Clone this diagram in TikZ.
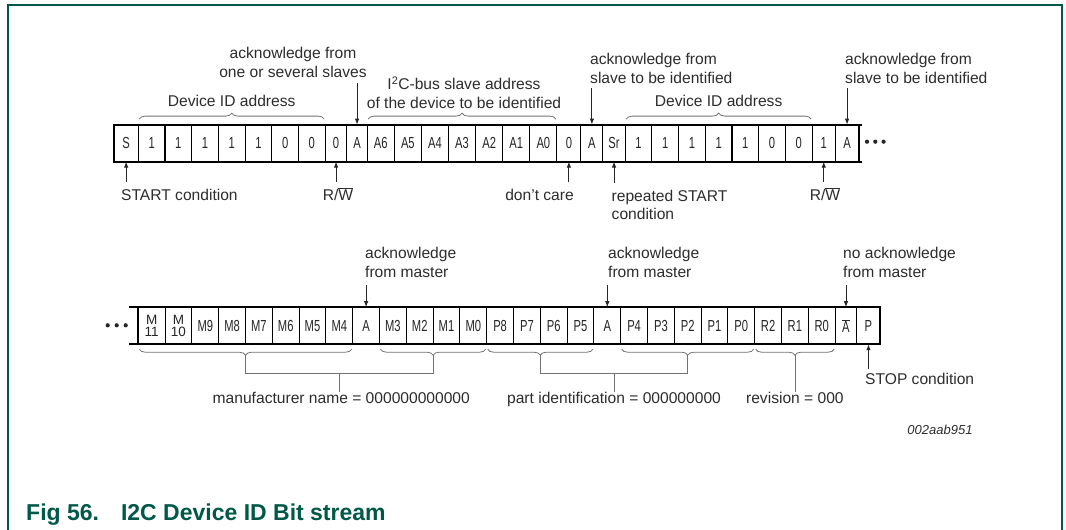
\documentclass[tikz,border=0pt]{standalone}
\usepackage{fontspec}
\setmainfont{Liberation Sans}
\newfontfamily\cellfont[FakeStretch=0.7]{Liberation Sans}
\usepackage{xcolor}
\usepackage{tikz}
\usetikzlibrary{arrows.meta,positioning,calc,decorations.pathreplacing}

\definecolor{figgreen}{RGB}{0,88,72}
\definecolor{txtgray}{RGB}{45,45,45}
\newcommand{\stk}[2]{\rmfamily\fontsize{13.5}{13.5}\selectfont\shortstack{#1\\#2}}
\newcommand{\rwbar}{R/$\overline{\mbox{W}}$}

\begin{document}
\begin{tikzpicture}[
  x=1pt, y=-1pt,
  lbl/.style={font=\fontsize{15.6}{18.8}\selectfont, text=txtgray, inner sep=0pt},
  bit/.style={draw, line width=1.1pt, outer sep=0pt, inner sep=0pt, minimum height=37pt, fill=white, font=\cellfont\fontsize{16}{16}\selectfont, text=black!85},
  rim/.style={line width=1.8pt},
  arr/.style={-{Latex[length=6pt,width=4.5pt]}, line width=0.9pt, black!85},
  brc/.style={decorate, decoration={brace, amplitude=6pt}, line width=0.8pt, black!55},
  lnk/.style={line width=0.8pt, black!55},
  dot/.style={circle, fill=black!85, inner sep=0pt, minimum size=4.2pt},
]
\fill[white] (0,0) rectangle (1066,530);
\useasboundingbox (0,0) rectangle (1066,530);
\draw[figgreen, line width=1.8pt] (8,530) -- (8,5) -- (1062,5) -- (1062,530);

% first row: address phase up to the repeated start
\node[bit, minimum width=24.3pt, anchor=west] (a1) at (114,143.1) {S};
\foreach \t/\w [count=\i from 2, remember=\i as \j (initially 1)] in
  {1/26.7, 1/26.7, 1/26.7, 1/26.7, 1/26.7, 0/26.7, 0/26.7, 0/21.7, A/20.3,
   A6/27.1, A5/27.1, A4/27.1, A3/27.1, A2/27.1, A1/27.1, A0/27.1, 0/24, A/22, Sr/22.3,
   1/26.7, 1/26.7, 1/26.7, 1/26.7, 1/26.7, 0/26.7, 0/26.7, 1/23.3, A/23.3}
  \node[bit, minimum width=\w pt, right=0pt of a\j] (a\i) {\t};
\draw[rim] ($(a29.north east)+(3.5,0)$) -- (a1.north west) -- (a1.south west) -- ($(a29.south east)+(3.5,0)$);
\draw[rim] (a29.north east) -- (a29.south east);
\foreach \k in {1,2,3}
  \node[dot] (ra\k) at (858.7+8.3*\k,141.7) {};

% second row: device ID read back
\node[bit, minimum width=26.8pt, anchor=west] (b1) at (138.3,325.7) {\stk{M}{11}};
\foreach \t/\w [count=\i from 2, remember=\i as \j (initially 1)] in
  {{\stk{M}{10}}/26.8, M9/26.8, M8/26.8, M7/26.8, M6/26.8, M5/26.8, M4/26.8, A/26.8,
   M3/26.8, M2/26.8, M1/26.8, M0/26.8, P8/26.8, P7/26.8, P6/26.8, P5/26.8, A/26.8,
   P4/26.8, P3/26.8, P2/26.8, P1/26.8, P0/26.8, R2/26.8, R1/26.8, R0/26.8,
   {$\overline{\mbox{A}}$}/21.7, P/23.3}
  \node[bit, minimum width=\w pt, right=0pt of b\j] (b\i) {\t};
\draw[rim] ($(b1.north west)+(-9,0)$) -- (b28.north east) -- (b28.south east) -- ($(b1.south west)+(-9,0)$);
\draw[rim] (b1.north west) -- (b1.south west);
\foreach \k in {1,2,3}
  \node[dot] (rb\k) at (98.7+9*\k,325.3) {};

% labels above the first row
\node[lbl, align=center, anchor=north] (ack1) at (293,46.7) {acknowledge from\\one or several slaves};
\node[lbl, anchor=base] (devid1) at (231.7,106.5) {Device ID address};
\node[lbl, align=center, anchor=north] (slv) at (464,76.5) {I\textsuperscript{2}C-bus slave address\\of the device to be identified};
\node[lbl, align=left, anchor=north west] (ack2) at (590,52.8) {acknowledge from\\slave to be identified};
\node[lbl, anchor=base] (devid2) at (718.6,106.5) {Device ID address};
\node[lbl, align=left, anchor=north west] (ack3) at (845,52.8) {acknowledge from\\slave to be identified};
\draw[brc] ($(a2.north west)+(1,-5.5)$) -- ($(a8.north east)+(-1,-5.5)$);
\draw[brc] ($(a11.north west)+(1,-5.5)$) -- ($(a17.north east)+(-1,-5.5)$);
\draw[brc] ($(a21.north west)+(1,-5.5)$) -- ($(a27.north east)+(-1,-5.5)$);
\draw[arr] ($(ack1.south -| a10.north)+(0,6)$) -- (a10.north);
\draw[arr] ($(ack2.south -| a19.north)+(0,5)$) -- (a19.north);
\draw[arr] ($(ack3.south -| a29.north)+(0,5)$) -- (a29.north);

% labels below the first row
\node[lbl, anchor=base west] (start) at (121,200) {START condition};
\node[lbl, anchor=base] (rw1) at (338,200.5) {\rwbar};
\node[lbl, anchor=base east] (dc) at (574,200.5) {don't care};
\node[lbl, align=left, anchor=north west] (rep) at (611.5,189.5) {repeated START\\condition};
\node[lbl, anchor=base] (rw2) at (825,200.5) {\rwbar};
\draw[arr] ($(start.north -| a1.south)+(0,-6.5)$) -- (a1.south);
\draw[arr] ($(rw1.north -| a9.south)+(0,-6)$) -- (a9.south);
\draw[arr] ($(dc.north -| a18.south)+(0,-6.5)$) -- (a18.south);
\draw[arr] ($(rep.north -| a20.south)+(0,-7)$) -- (a20.south);
\draw[arr] ($(rw2.north -| a28.south)+(0,-6)$) -- (a28.south);

% labels above the second row
\node[lbl, align=left, anchor=north west] (ackm1) at (365,247) {acknowledge\\from master};
\node[lbl, align=left, anchor=north west] (ackm2) at (608,247) {acknowledge\\from master};
\node[lbl, align=left, anchor=north west] (nack) at (843,247) {no acknowledge\\from master};
\draw[arr] ($(ackm1.south -| b9.north)+(0,7.5)$) -- (b9.north);
\draw[arr] ($(ackm2.south -| b18.north)+(0,7.5)$) -- (b18.north);
\draw[arr] ($(nack.south -| b27.north)+(0,7.5)$) -- (b27.north);

% field braces below the second row
\draw[brc] ($(b8.south east)+(-1,5)$) -- ($(b1.south west)+(1,5)$);
\draw[brc] ($(b13.south east)+(-1,5)$) -- ($(b10.south west)+(1,5)$);
\draw[brc] ($(b17.south east)+(-1,5)$) -- ($(b14.south west)+(1,5)$);
\draw[brc] ($(b23.south east)+(-1,5)$) -- ($(b19.south west)+(1,5)$);
\draw[brc] ($(b26.south east)+(-1,5)$) -- ($(b24.south west)+(1,5)$);
\coordinate (mA) at ($(b1.south west)!.5!(b8.south east)+(0,11)$);
\coordinate (mB) at ($(b10.south west)!.5!(b13.south east)+(0,11)$);
\coordinate (mJ) at ($(mA)!.5!(mB)+(0,18)$);
\coordinate (pA) at ($(b14.south west)!.5!(b17.south east)+(0,11)$);
\coordinate (pB) at ($(b19.south west)!.5!(b23.south east)+(0,11)$);
\coordinate (pJ) at ($(pA)!.5!(pB)+(0,18)$);
\coordinate (rT) at ($(b24.south west)!.5!(b26.south east)+(0,11)$);
\node[lbl, anchor=base] (manuf) at ($(mJ)+(2,30)$) {manufacturer name = 000000000000};
\node[lbl, anchor=base] (part) at ($(pJ)+(0,30)$) {part identification = 000000000};
\node[lbl, anchor=base] (rev) at ($(rT)+(0,48)$) {revision = 000};
\draw[lnk] (mA) |- (mJ) -| (mB);
\draw[lnk] (pA) |- (pJ) -| (pB);
\draw[lnk] (mJ) -- (mJ |- manuf.north);
\draw[lnk] (pJ) -- (pJ |- part.north);
\draw[lnk] (rT) -- (rT |- rev.north);

\node[lbl, anchor=base west] (stop) at (865,384) {STOP condition};
\draw[arr] ($(stop.north -| b28.south)+(0,-3)$) -- (b28.south);

\node[lbl, font=\fontsize{13}{13}\selectfont\itshape, anchor=base] (code) at (940,434.5) {002aab951};
\node[font=\fontsize{23}{23}\selectfont\bfseries, text=figgreen, inner sep=0pt, anchor=base west] (cap) at (26,520) {Fig 56.\hspace{22pt}I2C Device ID Bit stream};
\end{tikzpicture}
\end{document}
